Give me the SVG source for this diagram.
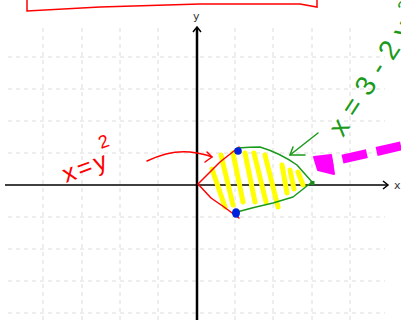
<svg xmlns="http://www.w3.org/2000/svg" width="401" height="320" viewBox="0 0 401 320">
<style>
.grid{stroke:#dcdcdc;stroke-width:1;stroke-dasharray:4,4;fill:none}
.axis{stroke:#000;fill:none}
.red{stroke:#f00;stroke-width:1.5;fill:none;stroke-linecap:round;stroke-linejoin:round}
.green{stroke:#1a9a1a;stroke-width:1.5;fill:none;stroke-linecap:round;stroke-linejoin:round}
.hatch{stroke:#ffff00;stroke-width:5;stroke-linecap:round;fill:none}
.lbl{font-family:"DejaVu Sans",sans-serif;font-size:11px;fill:#333}
.hand{font-family:"Liberation Sans",sans-serif}
</style>
<rect width="401" height="320" fill="#fff"/>
<g id="grid" class="grid">
<path d="M43,28V320M82,28V320M120,28V320M158,28V320M235,28V320M273,28V320M312,28V320M350,28V320"/>
<path d="M8,57H385M8,89H385M8,121H385M8,153H385M8,217H385M8,249H385M8,281H385M8,313H385"/>
</g>
<g id="title-box">
<path d="M27,0 L27,11 L100,7 L200,4 L300,4 L317,7 L317,0" stroke="#f00" stroke-width="1.5" fill="none"/>
</g>
<g id="axes">
<line class="axis" x1="5" y1="185" x2="387" y2="185" stroke-width="1.5"/>
<path class="axis" d="M383,181 L388,185 L383,189" stroke-width="1.5"/>
<line class="axis" x1="197" y1="320" x2="197" y2="28" stroke-width="2.5"/>
<path class="axis" d="M193,32 L197,27 L201,32" stroke-width="1.5"/>
<text class="lbl" x="193" y="20">y</text>
<text class="lbl" x="394" y="189">x</text>
</g>
<g id="region">
<g class="hatch">
<line x1="212" y1="169" x2="225" y2="207"/>
<line x1="221" y1="155" x2="233" y2="205"/>
<line x1="233" y1="153" x2="243" y2="202"/>
<line x1="245" y1="153" x2="255" y2="202"/>
<line x1="254" y1="153" x2="266" y2="202"/>
<line x1="265" y1="155" x2="278" y2="207"/>
<line x1="282" y1="165" x2="287" y2="193"/>
<line x1="290" y1="170" x2="294" y2="189"/>
<line x1="298" y1="172" x2="303" y2="185"/>
</g>
<path class="red" d="M239,147 L220,162 L198,184 L211,198 L224,207 L239,218"/>
<path class="green" d="M238,148 Q250,147 260,147 Q280,153 297,165 L312,182 L293,197 L273,203 Q255,207 237,212"/>
<circle cx="238" cy="151" r="3.8" fill="#0022dd"/>
<ellipse cx="236" cy="213" rx="4" ry="4.8" fill="#0022dd"/>
<rect x="310.5" y="181" width="4" height="4" fill="#1a8a1a"/>
</g>
<g id="label-parabola">
<path class="red" d="M147,161 Q170,150 190,152 Q205,154 212,157"/>
<path class="red" d="M207,152 L212,157 L205,162"/>
<text class="hand" transform="translate(66,183) rotate(-20)" font-size="25" letter-spacing="3" fill="#f00">x=y<tspan dy="-20" dx="-4" font-size="18">2</tspan></text>
</g>
<g id="label-green">
<path class="green" d="M318,133 L290,155"/>
<path class="green" d="M293,147 L290,155 L305,155"/>
<text class="hand" transform="translate(343,138) rotate(-57)" font-size="28" letter-spacing="9" fill="#1a9a1a">x=3-2y<tspan dy="-14" font-size="18">2</tspan></text>
</g>
<g id="pointer">
<path d="M401,146 L330,162" stroke="#ff00ff" stroke-width="9" stroke-dasharray="25,10" fill="none"/>
<path d="M314,157 L331,155 L334,174 L318,170 Z" fill="#ff00ff" stroke="#ff00ff" stroke-width="2" stroke-linejoin="round"/>
</g>
</svg>
